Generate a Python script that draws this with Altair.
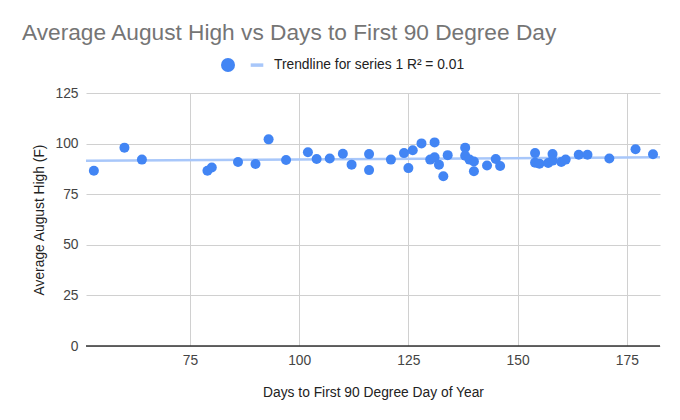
import altair as alt
import pandas as pd

days = [53, 60, 64, 79, 80, 86, 90, 93, 97, 102, 104, 107, 110, 112, 116, 116,
        121, 124, 126, 125, 128, 131, 130, 131, 132, 133, 134, 138, 138, 139,
        140, 140, 143, 145, 146, 154, 154, 155, 157, 158, 158, 160, 161, 164,
        166, 171, 177, 181]
highs = [86.6, 98.0, 92.1, 86.6, 88.2, 90.9, 89.9, 102.1, 91.9, 95.7, 92.4, 92.6,
         95.0, 89.6, 94.8, 86.9, 92.1, 95.3, 96.7, 87.9, 100.1, 100.6, 92.1, 93.2,
         89.6, 83.9, 94.3, 98.0, 94.0, 92.1, 91.2, 86.3, 89.2, 92.4, 88.9, 95.3,
         90.6, 90.1, 90.4, 94.8, 91.6, 90.9, 92.1, 94.5, 94.5, 92.6, 97.2, 94.7]
x_ticks = [75, 100, 125, 150, 175]
y_ticks = [0, 25, 50, 75, 100, 125]
series_labels = [" ", "Trendline for series 1 R\u00b2 = 0.01"]

BLUE = "#4285F4"
LIGHT = "#A8C7FA"
FONT = "Liberation Sans"

df = pd.DataFrame({"days": days, "high": highs, "series": series_labels[0]})

x_enc = alt.X("days:Q", title="Days to First 90 Degree Day of Year",
              scale=alt.Scale(domain=[51.2, 182.6], nice=False, zero=False),
              axis=alt.Axis(values=x_ticks, grid=True, domain=False, ticks=False,
                            labelPadding=7, titlePadding=19))
y_enc = alt.Y("high:Q", title="Average August High (F)",
              scale=alt.Scale(domain=[0, 125], nice=False),
              axis=alt.Axis(values=y_ticks, grid=True, domain=False, ticks=False,
                            labelPadding=8, titlePadding=8))

legend = alt.Legend(title=None, orient="none", legendX=135, legendY=-35,
                    direction="horizontal", symbolSize=196, labelOffset=10,
                    columnPadding=5, labelFontSize=13.8, labelColor="#222",
                    labelFont=FONT, labelLimit=400, symbolStrokeWidth=0)

points = alt.Chart(df).mark_point(filled=True, size=100, opacity=1).encode(
    x=x_enc,
    y=y_enc,
    color=alt.Color("series:N", scale=alt.Scale(domain=series_labels, range=[BLUE, LIGHT]),
                    legend=legend),
    shape=alt.Shape("series:N", scale=alt.Scale(domain=series_labels,
                    range=["circle", "M-0.9,-0.25H0.9V0.25H-0.9Z"]),
                    legend=legend),
)

trend = alt.Chart(df).transform_regression(
    "days", "high", extent=[51.2, 182.6]
).mark_line(color=LIGHT, strokeWidth=2.5).encode(x="days:Q", y="high:Q")

zero_line = alt.Chart(pd.DataFrame({"z": [0]})).mark_rule(color="#333", strokeWidth=1.5).encode(
    y=alt.Y("z:Q"))

chart = alt.layer(trend, zero_line, points).properties(
    width=574, height=253,
    autosize=alt.AutoSizeParams(type="none"),
    padding={"left": 78, "top": 85, "right": 12, "bottom": 66},
    title=alt.TitleParams("Average August High vs Days to First 90 Degree Day",
                          anchor="start", frame="group", dx=-64, offset=13,
                          fontSize=22.7, font=FONT, fontWeight="normal",
                          color="#757575"),
).configure(font=FONT).configure_view(stroke=None).configure_axis(
    labelFont=FONT, labelFontSize=13.8, labelColor="#444",
    titleFont=FONT, titleFontSize=13.8, titleFontWeight="normal", titleColor="#222",
    gridColor="#D0D0D0", gridWidth=1,
)

chart.save("out.html", embed_options={"renderer": "svg", "actions": False})
